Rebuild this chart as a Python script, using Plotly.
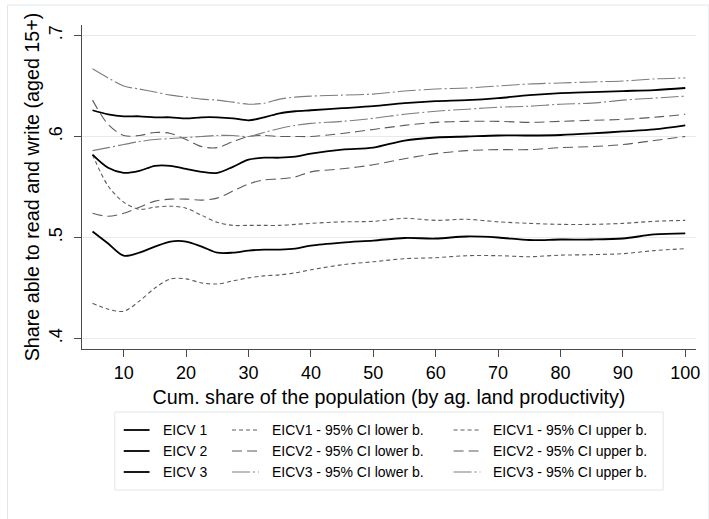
import plotly.graph_objects as go

# ---------------- data ----------------
x_share = [5, 7.5, 10, 12.5, 15, 17.5, 20, 22.5, 25, 27.5, 30, 32.5, 35, 37.5,
           40, 45, 50, 55, 60, 65, 70, 75, 80, 85, 90, 95, 100]

eicv1 = [0.506, 0.494, 0.482, 0.485, 0.491, 0.496, 0.496, 0.491, 0.485, 0.485,
         0.487, 0.488, 0.488, 0.489, 0.492, 0.495, 0.497, 0.4995, 0.499, 0.501,
         0.500, 0.4975, 0.498, 0.498, 0.499, 0.503, 0.504]
eicv1_lo = [0.435, 0.429, 0.427, 0.437, 0.450, 0.459, 0.459, 0.455, 0.454, 0.457,
            0.460, 0.462, 0.463, 0.465, 0.468, 0.473, 0.476, 0.479, 0.480, 0.482,
            0.482, 0.481, 0.4825, 0.483, 0.484, 0.487, 0.489]
eicv1_hi = [0.582, 0.551, 0.535, 0.528, 0.530, 0.531, 0.529, 0.522, 0.515, 0.512,
            0.512, 0.512, 0.512, 0.513, 0.514, 0.5155, 0.516, 0.519, 0.517, 0.518,
            0.5155, 0.514, 0.513, 0.513, 0.514, 0.516, 0.517]

eicv2 = [0.582, 0.569, 0.564, 0.566, 0.571, 0.571, 0.568, 0.565, 0.564, 0.570,
         0.577, 0.579, 0.579, 0.580, 0.583, 0.587, 0.589, 0.596, 0.599, 0.600,
         0.601, 0.601, 0.6015, 0.603, 0.605, 0.607, 0.611]
eicv2_lo = [0.524, 0.521, 0.524, 0.530, 0.536, 0.538, 0.538, 0.537, 0.539, 0.546,
            0.553, 0.557, 0.558, 0.560, 0.565, 0.568, 0.572, 0.578, 0.583, 0.586,
            0.587, 0.587, 0.589, 0.590, 0.592, 0.596, 0.600]
eicv2_hi = [0.636, 0.612, 0.601, 0.601, 0.604, 0.603, 0.597, 0.590, 0.589, 0.595,
            0.600, 0.601, 0.600, 0.600, 0.600, 0.603, 0.607, 0.611, 0.614, 0.615,
            0.615, 0.614, 0.615, 0.616, 0.617, 0.619, 0.622]

eicv3 = [0.626, 0.622, 0.620, 0.620, 0.619, 0.619, 0.618, 0.619, 0.619, 0.618,
         0.616, 0.619, 0.623, 0.625, 0.626, 0.628, 0.630, 0.633, 0.635, 0.636,
         0.638, 0.641, 0.643, 0.644, 0.645, 0.646, 0.648]
eicv3_lo = [0.586, 0.589, 0.592, 0.595, 0.597, 0.598, 0.599, 0.600, 0.601, 0.601,
            0.600, 0.604, 0.608, 0.611, 0.613, 0.615, 0.618, 0.622, 0.625, 0.627,
            0.629, 0.630, 0.632, 0.633, 0.636, 0.638, 0.640]
eicv3_hi = [0.667, 0.658, 0.650, 0.647, 0.644, 0.641, 0.639, 0.637, 0.636, 0.634,
            0.632, 0.633, 0.637, 0.639, 0.640, 0.641, 0.642, 0.645, 0.647, 0.648,
            0.650, 0.652, 0.653, 0.654, 0.655, 0.657, 0.658]

x_ticks = [10, 20, 30, 40, 50, 60, 70, 80, 90, 100]
y_ticks = [0.4, 0.5, 0.6, 0.7]
y_ticktext = [".4", ".5", ".6", ".7"]

legend_names = [
    ["EICV 1", "EICV1 - 95% CI lower b.", "EICV1 - 95% CI upper b."],
    ["EICV 2", "EICV2 - 95% CI lower b.", "EICV2 - 95% CI upper b."],
    ["EICV 3", "EICV3 - 95% CI lower b.", "EICV3 - 95% CI upper b."],
]

# ---------------- styles ----------------
FONT = "Liberation Sans, Arial, sans-serif"
W, H = 709, 519
ML, MR, MT, MB = 82, 9, 25, 170
PW, PH = W - ML - MR, H - MT - MB

SOLID = dict(color="black", width=1.8, dash="solid")
CI1 = dict(color="#5c5c5c", width=1.1, dash="4px,3px")
CI2 = dict(color="#5c5c5c", width=1.1, dash="10px,5px")
CI3 = dict(color="#7c7c7c", width=1.1, dash="18px,3px,2px,3px")

series = [
    (eicv1, SOLID, legend_names[0][0]),
    (eicv1_lo, CI1, legend_names[0][1]),
    (eicv1_hi, CI1, legend_names[0][2]),
    (eicv2, SOLID, legend_names[1][0]),
    (eicv2_lo, CI2, legend_names[1][1]),
    (eicv2_hi, CI2, legend_names[1][2]),
    (eicv3, SOLID, legend_names[2][0]),
    (eicv3_lo, CI3, legend_names[2][1]),
    (eicv3_hi, CI3, legend_names[2][2]),
]

fig = go.Figure()
for ys, st, nm in series:
    fig.add_trace(go.Scatter(x=x_share, y=ys, mode="lines", name=nm,
                             line=dict(st, shape="spline", smoothing=0.9),
                             showlegend=False, hoverinfo="skip"))


def px2x(px):
    return (px - ML) / PW


def py2y(py):
    return (H - MB - py) / PH


shapes = []
annotations = []

# outer graph-region frame
shapes.append(dict(type="rect", xref="paper", yref="paper",
                   x0=px2x(7), x1=px2x(713), y0=py2y(5), y1=py2y(523),
                   line=dict(color="#dfe7e9", width=1), fillcolor="rgba(0,0,0,0)",
                   layer="below"))

# legend box
shapes.append(dict(type="rect", xref="paper", yref="paper",
                   x0=px2x(115), x1=px2x(667), y0=py2y(412), y1=py2y(490),
                   line=dict(color="#dfe7e9", width=1), fillcolor="white"))

row_y = [430, 451, 472]
col_line = [(124, 150), (233, 260), (456, 483)]
col_text = [162, 271, 494]
styles = [[SOLID, CI1, CI1], [SOLID, CI2, CI2], [SOLID, CI3, CI3]]
for r in range(3):
    for c in range(3):
        st = styles[r][c]
        shapes.append(dict(type="line", xref="paper", yref="paper",
                           x0=px2x(col_line[c][0]), x1=px2x(col_line[c][1]),
                           y0=py2y(row_y[r]), y1=py2y(row_y[r]),
                           line=dict(color=st["color"], width=st["width"], dash=st["dash"])))
        annotations.append(dict(xref="paper", yref="paper",
                                x=px2x(col_text[c]), y=py2y(row_y[r]),
                                text=legend_names[r][c], showarrow=False,
                                xanchor="left", yanchor="middle",
                                font=dict(family=FONT, size=14, color="black")))

axis_common = dict(showline=True, linecolor="#4a4a4a", linewidth=1,
                   ticks="outside", ticklen=7, tickwidth=1, tickcolor="#4a4a4a",
                   showgrid=True, gridcolor="#e3ebee", gridwidth=1,
                   zeroline=False, tickfont=dict(family=FONT, size=18, color="black"))

fig.update_layout(
    width=W, height=H, autosize=False,
    margin=dict(l=ML, r=MR, t=MT, b=MB, pad=0),
    paper_bgcolor="white", plot_bgcolor="white",
    font=dict(family=FONT, color="black"),
    showlegend=False,
    xaxis=dict(axis_common, range=[3.312, 101.72], tickvals=x_ticks,
               showgrid=False,
               title=dict(text="Cum. share of the population (by ag. land productivity)",
                          font=dict(family=FONT, size=19.7, color="black"), standoff=8)),
    yaxis=dict(axis_common, range=[0.3896, 0.7104], tickvals=y_ticks,
               ticktext=y_ticktext, tickangle=-90, ticklabelstandoff=5,
               title=dict(text="Share able to read and write (aged 15+)",
                          font=dict(family=FONT, size=19.7, color="black"), standoff=0)),
    shapes=shapes,
    annotations=annotations,
)

# remove the browser's default 8px page margin so the figure fills the window
fig.write_html("out.html",
               config={"displayModeBar": False, "staticPlot": True},
               post_script="document.body.style.margin='0px';document.body.style.overflow='hidden';")
